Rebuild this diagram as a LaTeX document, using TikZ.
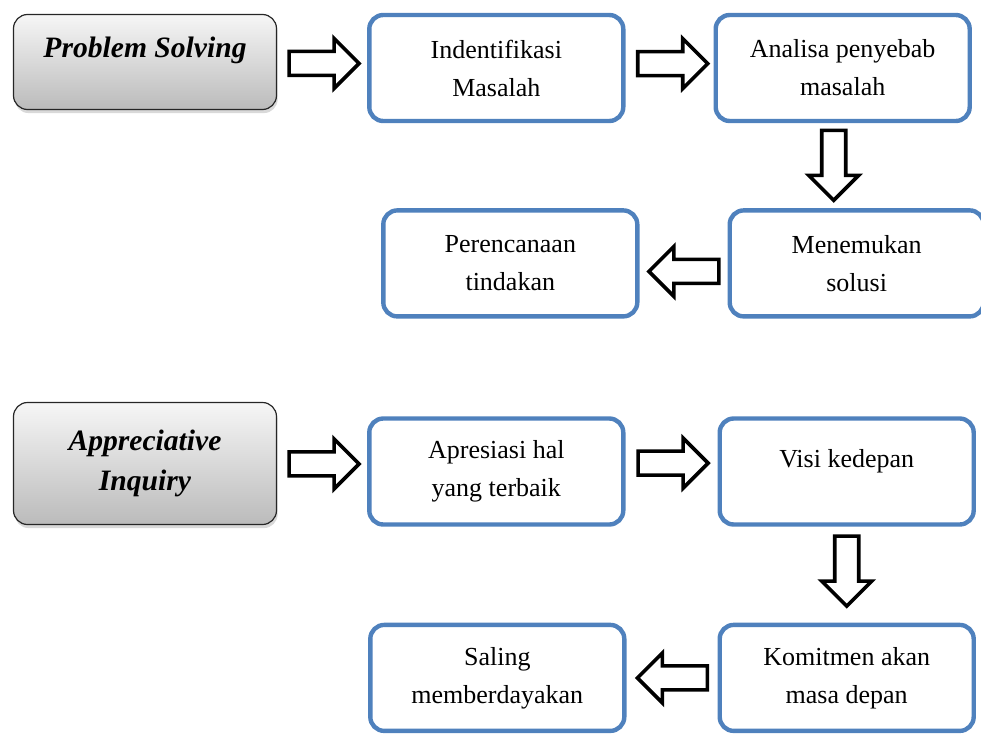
\documentclass[tikz,border=0pt]{standalone}
\usepackage{fontspec}
\setmainfont{Liberation Serif}
\usepackage{tikz}
\usetikzlibrary{positioning,shapes.arrows,shadows}
\definecolor{pblue}{HTML}{4F81BD}
\definecolor{gtop}{HTML}{F6F6F6}
\definecolor{gbot}{HTML}{BBBBBB}
\tikzset{
 box/.style={draw=pblue,line width=2.2pt,rounded corners=7pt,align=center,
   minimum width=127pt,minimum height=53pt,font=\fontsize{13}{19}\selectfont,
   inner sep=4pt,fill=white},
 graybox/.style={draw=black!85,line width=0.6pt,rounded corners=7pt,align=center,
   minimum width=131.5pt,font=\fontsize{14.8}{20}\selectfont\bfseries\itshape,
   top color=gtop,bottom color=gbot,
   drop shadow={opacity=0.3,shadow xshift=0.6pt,shadow yshift=-1.8pt}},
 fatarrow/.style={single arrow,draw=black,line width=1.8pt,fill=white,
   inner xsep=0pt,inner ysep=5.1pt,single arrow head extend=6.5pt,minimum height=35pt},
 rightarrow/.style={fatarrow,xshift=-3.2pt},
 downarrow/.style={fatarrow,rotate=-90,xshift=-3.2pt},
 leftarrow/.style={fatarrow,rotate=180,xshift=-3.2pt}
}
\begin{document}
\begin{tikzpicture}
 \useasboundingbox (0,0) rectangle (490.5pt,-367pt);
 \node[graybox,minimum height=47.5pt,text depth=15pt] (ps) at (72.5pt,-31pt) {Problem Solving};
 \node[box,right=45pt of ps,yshift=-3pt] (ident) {Indentifikasi\\Masalah};
 \node[box,right=44pt of ident] (anal) {Analisa penyebab\\masalah};
 \node[box,below=42.5pt of anal,xshift=7pt] (solusi) {Menemukan\\solusi};
 \node[box,left=44pt of solusi] (rencana) {Perencanaan\\tindakan};
 \node[graybox,minimum height=61pt] (ai) at (72.5pt,-231.75pt) {Appreciative\\Inquiry};
 \node[box,right=45pt of ai,yshift=-4pt] (apres) {Apresiasi hal\\yang terbaik};
 \node[box,right=46pt of apres,text depth=13pt] (visi) {Visi kedepan};
 \node[box,below=48pt of visi] (komit) {Komitmen akan\\masa depan};
 \node[box,left=45.5pt of komit] (saling) {Saling\\memberdayakan};
 \path (ps.east) -- (ident.west) node[midway,xshift=1.2pt,yshift=0.8pt,rightarrow] (a1) {};
 \path (ident.east) -- (anal.west) node[midway,xshift=1.8pt,yshift=2.2pt,rightarrow] (a2) {};
 \path (anal.south) -- (solusi.north) node[midway,xshift=-8pt,downarrow] (a3) {};
 \path (solusi.west) -- (rencana.east) node[midway,yshift=-4pt,leftarrow] (a4) {};
 \path (ai.east) -- (apres.west) node[midway,xshift=1.2pt,yshift=1.8pt,rightarrow] (a5) {};
 \path (apres.east) -- (visi.west) node[midway,xshift=1pt,yshift=4.2pt,rightarrow] (a6) {};
 \path (visi.south) -- (komit.north) node[midway,yshift=1.6pt,downarrow] (a7) {};
 \path (komit.west) -- (saling.east) node[midway,leftarrow] (a8) {};
\end{tikzpicture}
\end{document}
